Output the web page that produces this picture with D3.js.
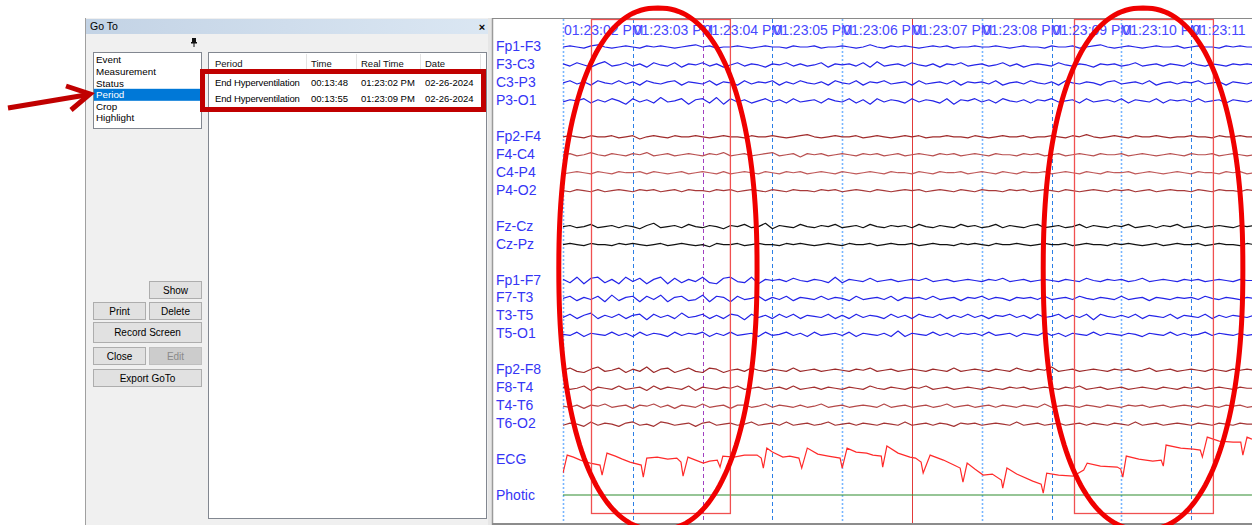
<!DOCTYPE html>
<html><head><meta charset="utf-8">
<script src="https://cdn.jsdelivr.net/npm/d3@7"></script>
<style>
html,body{margin:0;padding:0;background:#fff;overflow:hidden}
svg{display:block}
text{font-family:"Liberation Sans",Arial,sans-serif}
</style></head>
<body>
<svg id="chart" width="1252" height="525"></svg>
<script>
// ---------------- DATA ----------------
const listItems = ["Event","Measurement","Status","Period","Crop","Highlight"];
const selectedItem = "Period";
const tableColumns = ["Period","Time","Real Time","Date"];
const periodNames = ["End Hyperventilation","End Hyperventilation"];
const periodTimes = ["00:13:48","00:13:55"];
const periodRealTimes = ["01:23:02 PM","01:23:09 PM"];
const periodDates = ["02-26-2024","02-26-2024"];

const tickSeconds = [2,3,4,5,6,7,8,9,10,11];
const tickLabels = ["01:23:02 PM","01:23:03 PM","01:23:04 PM","01:23:05 PM","01:23:06 PM","01:23:07 PM","01:23:08 PM","01:23:09 PM","01:23:10 PM","01:23:11"];
const tickStyles = ["light","dark","purple","dark","light","red","light","dark","light","dark"];

const channelGroups = [
  ["Fp1-F3","F3-C3","C3-P3","P3-O1"],
  ["Fp2-F4","F4-C4","C4-P4","P4-O2"],
  ["Fz-Cz","Cz-Pz"],
  ["Fp1-F7","F7-T3","T3-T5","T5-O1"],
  ["Fp2-F8","F8-T4","T4-T6","T6-O2"],
  ["ECG"],
  ["Photic"]
];
const channelColors = {
  "Fp1-F3":"#2424e8","F3-C3":"#2424e8","C3-P3":"#2424e8","P3-O1":"#2424e8",
  "Fp2-F4":"#a02c2c","F4-C4":"#b85050","C4-P4":"#c05a5a","P4-O2":"#a83a3a",
  "Fz-Cz":"#111111","Cz-Pz":"#111111",
  "Fp1-F7":"#2424e8","F7-T3":"#2424e8","T3-T5":"#2424e8","T5-O1":"#2424e8",
  "Fp2-F8":"#9c2a2a","F8-T4":"#a43030","T4-T6":"#b44848","T6-O2":"#a43434",
  "ECG":"#ff2a2a","Photic":"#2e8b2e"
};

const SAMPLE_START = 2.0, SAMPLE_STEP = 0.1;
const eeg = {
"Fp1-F3":[0,1,0,-1,1,2,0,-1,0,1, 0,-1,1,0,1,0,-1,0,1,2, 0,1,-1,0,0,1,0,-1,0,1, 0,0,-1,1,0,0,1,-1,0,0, 1,0,-1,0,2,0,-1,1,0,1, 0,-1,0,1,0,1,-1,0,0,1, 0,0,1,0,-1,0,1,0,0,-1, 1,0,0,1,-1,0,1,2,0,-1, 0,1,0,-1,0,1,0,0,1,-1, 0,1,0,0,-1,1,0,1,0,0],
"F3-C3":[1,-1,2,0,-2,1,3,-1,0,2, -1,1,-2,2,0,-1,2,-2,1,0, 2,-1,1,-2,0,2,-1,1,0,-2, 1,0,2,-1,1,-1,0,2,-2,1, 0,1,-1,2,-2,3,-1,0,1,-1, 2,0,-1,1,-2,1,0,2,-1,0, 1,-1,0,2,-1,1,-2,0,1,0, -1,2,0,-1,1,0,-2,1,0,1, -1,0,2,-1,0,1,-1,1,0,-1, 2,0,-1,1,0,-1,1,0,1,0],
"C3-P3":[0,2,-1,1,-2,2,0,-1,2,-1, 1,-2,2,0,-1,1,2,-2,1,0, -1,2,-2,1,0,-2,2,-1,1,0, 2,-2,1,-1,2,0,-1,1,-2,2, 0,-1,2,-2,1,0,2,-1,0,1, -2,2,-1,0,1,-1,2,-2,1,0, 1,-1,2,-2,0,1,-1,2,0,-1, 1,-2,2,0,-1,1,0,-2,1,2, -1,0,1,-1,2,-2,0,1,-1,1, 0,2,-1,0,1,-2,1,0,-1,1],
"P3-O1":[-1,1,0,2,-2,1,-1,2,0,-3, 2,-1,1,-2,3,-1,0,2,-3,1, 2,-2,3,-3,2,-1,1,-2,0,2, -1,1,-2,2,-1,0,1,-2,2,0, -1,2,-2,1,-3,2,-1,1,0,-2, 2,-1,1,0,-2,2,-3,1,0,2, -1,1,-2,2,0,-1,1,-2,1,0, 2,-1,0,1,-2,2,-1,0,1,-1, 2,-2,1,0,-1,2,-2,1,0,1, -1,2,-1,0,1,-2,1,0,-1,1],
"Fp2-F4":[0,1,0,-1,1,0,0,1,-1,0, 1,-2,0,1,0,-1,1,0,0,1, 0,-1,0,1,0,0,-1,1,0,0, 1,0,-1,0,1,2,0,-1,0,1, 0,0,1,-1,0,1,0,-1,0,1, 0,1,-1,0,0,1,0,0,-1,1, 0,-1,0,1,0,0,1,-1,0,0, 1,0,-1,1,0,2,0,-1,0,1, 0,-1,1,0,0,1,0,-1,0,0, 1,0,0,-1,1,0,0,1,0,0],
"F4-C4":[0,1,-1,0,2,0,-1,1,0,-1, 1,0,2,-1,0,1,-1,0,1,0, -1,1,0,2,-1,0,1,-1,0,1, 2,-1,0,1,-2,1,0,1,-1,0, 1,0,-1,1,0,1,-1,0,1,-1, 0,1,0,-1,1,0,1,-1,0,1, 0,-1,1,0,0,-1,1,0,1,-1, 0,1,-1,0,1,0,-1,1,0,0, 1,-1,0,1,0,-1,0,1,0,-1, 1,0,0,1,-1,0,1,0,-1,0],
"C4-P4":[-1,0,1,0,-1,1,0,-1,1,0, 0,1,-1,1,0,-1,0,1,-1,0, 1,0,-1,1,-1,0,1,0,-1,1, 0,-1,1,0,1,-1,0,1,0,-1, 1,0,-1,0,1,0,-1,1,0,0, -1,1,0,-1,1,0,0,1,-1,0, 1,0,-1,1,0,-1,1,0,0,1, -1,0,1,0,-1,1,0,-1,1,0, 0,1,-1,0,1,0,-1,0,1,0, -1,1,0,0,-1,1,0,1,-1,0],
"P4-O2":[0,-1,1,0,-1,1,-1,0,1,0, -1,1,0,1,-1,0,1,-1,1,0, 0,-1,1,0,1,-1,0,1,0,-1, 1,0,-1,1,0,0,-1,1,0,1, -1,0,1,0,-1,1,0,-1,0,1, 0,1,-1,0,1,0,-1,1,0,-1, 1,0,0,-1,1,0,1,-1,0,1, 0,-1,1,0,-1,0,1,0,-1,1, 0,1,-1,0,1,-1,0,1,0,0, -1,1,0,-1,1,0,0,-1,1,0],
"Fz-Cz":[0,1,-1,0,2,-1,0,1,-1,1, 0,-2,1,3,-1,0,1,-1,2,0, -1,1,0,-2,1,0,2,-1,0,3, -2,1,0,-1,2,0,-1,1,0,2, -1,0,1,-1,2,0,-1,1,0,1, -1,2,0,-1,1,0,-1,2,0,1, -1,0,2,-1,1,0,-1,1,2,-1, 0,1,-1,0,2,-1,1,0,-1,1, 0,2,-1,0,1,-1,1,0,2,-1, 0,1,-1,0,1,0,-1,1,0,1],
"Cz-Pz":[0,1,0,-1,1,0,0,-1,1,0, 1,0,-1,0,1,-1,0,1,0,-1, 0,-2,1,0,0,1,-1,0,1,0, 0,-1,1,0,1,0,-1,0,1,0, -1,1,0,0,1,-1,0,1,0,0, 1,-1,0,1,0,0,-1,1,0,1, 0,-1,1,0,0,1,0,-1,0,1, 0,0,1,-1,0,1,0,0,-1,1, 0,1,0,-1,0,1,-1,0,1,0, 0,1,-1,0,1,0,0,-1,1,0],
"Fp1-F7":[1,-2,3,-3,2,3,-2,1,-3,3, -1,2,-3,1,3,-3,2,-2,1,-1, 3,-2,-3,2,3,-1,-2,3,-3,1, 0,1,-1,2,0,-1,1,0,-2,3, -2,1,0,-1,2,-1,0,1,-1,0, 1,0,2,-1,0,1,-1,0,1,0, -1,1,0,2,-1,0,1,-1,0,1, 0,-1,1,0,-1,2,0,-1,1,0, 1,-1,0,2,-1,0,1,0,-1,1, 0,1,-1,0,1,0,-1,1,0,0],
"F7-T3":[0,2,-2,1,-1,2,-3,3,-2,1, 2,-3,2,-1,3,-3,1,2,-2,-1, 3,-3,2,1,-3,2,-1,0,2,-2, 1,-1,2,-2,1,0,-1,2,-1,1, 0,-2,2,-1,0,1,-1,2,-2,1, 0,1,-1,2,-1,0,1,-2,1,0, 2,-1,1,0,-2,1,0,1,-1,2, -1,0,1,-1,2,0,-1,1,0,-1, 2,-1,0,1,-2,1,0,-1,1,0, 1,-1,2,0,-1,1,0,-1,1,0],
"T3-T5":[-1,2,-2,1,3,-2,1,-1,2,-2, 1,2,-3,2,-1,1,-2,3,-1,0, 2,-2,1,-2,2,1,-3,2,-1,1, -2,2,-1,2,-2,1,0,-1,2,-2, 1,-2,2,-1,1,0,-2,2,-1,1, -2,2,0,-1,2,-2,1,-1,2,-1, 1,-2,1,0,2,-1,1,-2,2,-1, 0,2,-2,1,-1,2,-3,2,0,-1, 1,-1,2,-2,1,0,-1,2,-2,1, 0,-1,2,-2,1,-1,1,0,-1,1],
"T5-O1":[0,-1,2,-2,1,0,-1,2,-1,1, -2,2,-1,1,0,-2,2,-1,1,0, 2,-2,1,-1,2,-1,0,1,-2,2, -1,0,2,-1,1,-2,2,-1,0,1, -1,2,-2,1,0,-1,1,-2,3,-2, 1,0,-1,2,-1,1,-2,1,0,1, -1,2,-1,0,1,-2,1,0,-1,2, -1,1,-2,1,0,-1,2,-1,1,0, -1,1,0,-2,1,0,-1,2,-1,1, -1,0,2,-1,1,0,-1,1,-1,0],
"Fp2-F8":[0,2,-1,-2,1,3,-1,0,2,-2, 1,-1,3,-2,1,2,-2,0,2,-1, -2,2,1,-2,0,1,-1,2,0,-1, 1,0,-1,2,-1,0,1,-1,0,1, 0,-1,1,0,2,-1,0,1,-1,0, 1,0,-1,1,0,-1,2,-1,0,1, 0,-1,1,0,-1,2,0,-1,1,0, 3,-1,0,1,-1,0,1,0,-1,1, 0,1,-1,0,2,-1,0,1,-1,0, 1,0,-1,1,0,-1,1,0,1,0],
"F8-T4":[1,-1,0,2,-2,1,0,-1,2,-1, 0,1,-2,2,-1,1,0,-1,2,-2, 1,0,-1,1,0,2,-1,0,1,-1, 0,1,-1,2,-1,0,1,-1,1,0, -1,1,0,-1,2,0,-1,1,0,-1, 1,0,2,-1,0,1,-1,0,1,0, -1,1,0,-1,1,0,1,-1,0,1, 0,-1,1,0,2,-1,0,1,-1,0, 1,-1,0,1,0,-1,1,0,-1,1, 0,1,-1,0,1,0,-1,1,0,0],
"T4-T6":[0,-1,1,-2,1,0,2,-1,0,1, -2,1,0,2,-1,1,-2,1,0,-1, 2,-1,0,1,-2,1,1,-1,0,2, -1,1,0,-1,1,-1,0,2,-1,0, 1,-1,0,1,0,-1,2,-1,0,1, -1,0,1,-1,0,2,-1,0,1,-1, 0,1,-1,1,0,-1,1,0,-1,2, -1,0,1,0,-1,1,0,-1,1,0, -1,1,0,1,-1,0,1,-1,0,1, 0,-1,1,0,-1,1,0,1,-1,0],
"T6-O2":[-1,1,0,-2,2,-1,1,0,-2,1, 2,-1,0,-2,2,1,-1,0,1,-2, 1,2,-1,0,1,-1,0,2,-1,0, 1,-1,2,-1,0,1,-1,0,2,-1, 0,1,-1,1,0,-1,1,0,-1,2, -1,0,1,-1,1,0,-2,1,0,1, -1,0,1,0,-1,2,-1,0,1,-1, 0,1,-1,0,1,-1,1,0,-1,1, 0,-1,2,-1,0,1,-1,0,1,0, -1,1,0,-1,1,0,-1,1,0,0]
};

const ecgTimes = [2.00,2.06,2.15,2.25,2.39,2.53,2.56,2.63,2.75,2.85,2.96,3.12,3.15,3.20,3.35,3.50,3.63,3.69,3.72,3.79,3.90,4.01,4.10,4.21,4.25,4.29,4.45,4.60,4.78,4.84,4.87,4.92,5.00,5.15,5.25,5.38,5.42,5.50,5.65,5.80,5.97,6.00,6.07,6.20,6.35,6.44,6.56,6.58,6.64,6.80,6.97,7.05,7.13,7.16,7.26,7.45,7.60,7.69,7.73,7.79,7.90,8.02,8.15,8.28,8.30,8.36,8.50,8.73,8.85,8.88,8.93,9.10,9.31,9.46,9.51,9.70,9.94,9.99,10.02,10.07,10.25,10.45,10.57,10.60,10.64,10.85,11.03,11.13,11.16,11.23,11.40,11.60,11.71,11.74,11.80,11.87];
const ecgValues = [-14,4,2,-1,-4,-6,-16,6,3,0,-3,-6,-18,1,2,0,1,-3,-17,2,-1,-4,-2,-1,-8,3,2,4,4,1,-9,11,7,2,3,1,-9,11,5,3,1,-9,11,7,6,4,3,-8,13,6,2,1,-3,-14,4,-1,-6,-9,-23,-4,-10,-16,-15,-21,-29,-9,-15,-22,-25,-34,-14,-16,-17,-11,-4,-7,-8,-10,-18,3,0,-2,-1,-7,14,11,10,9,2,22,18,17,17,4,22,20];
const photicTimes = [2.0, 11.87];
const photicValues = [0, 0];

const periodBoxes = [{start:2.40,end:4.39},{start:9.32,end:11.31}];
const highlightEllipses = [{center:3.36,half:1.42},{center:10.31,half:1.43}];

// ---------------- DRAW ----------------
const svg = d3.select("#chart");

// ===== Left "Go To" panel =====
const defs = svg.append("defs");
const grad = defs.append("linearGradient").attr("id","tb").attr("x1","0").attr("x2","1");
grad.append("stop").attr("offset","0").attr("stop-color","#c3d3e5");
grad.append("stop").attr("offset","1").attr("stop-color","#dbe7f3");

svg.append("rect").attr("x",85).attr("y",18).attr("width",407).attr("height",507).attr("fill","#f0f0f0");
svg.append("line").attr("x1",85.5).attr("x2",85.5).attr("y1",18).attr("y2",525).attr("stroke","#a0a0a0");
svg.append("rect").attr("x",86).attr("y",19).attr("width",404).attr("height",15).attr("fill","url(#tb)");
svg.append("text").attr("x",90).attr("y",30).attr("font-size",10.5).attr("fill","#000").text("Go To");
svg.append("text").attr("x",482).attr("y",30.5).attr("font-size",11).attr("font-weight","bold").attr("text-anchor","middle").text("×");
// pin icon
const pin = svg.append("g").attr("transform","translate(194,42)");
pin.append("rect").attr("x",-2).attr("y",-4).attr("width",4).attr("height",4).attr("fill","#111");
pin.append("rect").attr("x",-3).attr("y",0).attr("width",6).attr("height",1.5).attr("fill","#111");
pin.append("line").attr("x1",0).attr("x2",0).attr("y1",1).attr("y2",5).attr("stroke","#111");

// list box
svg.append("rect").attr("x",93.5).attr("y",52.5).attr("width",108).attr("height",76).attr("fill","#fff").attr("stroke","#828790");
const listY = d3.scalePoint().domain(listItems).range([60,118]);
listItems.forEach(it=>{
  if(it===selectedItem){
    svg.append("rect").attr("x",94).attr("y",listY(it)-6).attr("width",107).attr("height",12).attr("fill","#0078d7");
  }
  svg.append("text").attr("x",96).attr("y",listY(it)).attr("dy","0.35em").attr("font-size",9.8)
    .attr("fill",it===selectedItem?"#fff":"#000").text(it);
});

// table
svg.append("rect").attr("x",208.5).attr("y",52.5).attr("width",278).attr("height",466).attr("fill","#fff").attr("stroke","#828790");
const colX = [215,311,361,425];
[306,356,420,480].forEach(sx=>svg.append("line").attr("x1",sx+0.5).attr("x2",sx+0.5).attr("y1",54).attr("y2",72).attr("stroke","#e3e3e3"));
tableColumns.forEach((c,i)=>svg.append("text").attr("x",colX[i]).attr("y",64).attr("dy","0.35em").attr("font-size",9.5).attr("fill","#111").text(c));
const rowY = d3.scalePoint().domain(d3.range(periodNames.length)).range([83,99]);
periodNames.forEach((n,i)=>{
  [n,periodTimes[i],periodRealTimes[i],periodDates[i]].forEach((v,j)=>{
    svg.append("text").attr("x",colX[j]).attr("y",rowY(i)).attr("dy","0.35em").attr("font-size",9.5)
      .attr("letter-spacing", j===0 ? "-0.15" : "0").attr("fill","#000").text(v);
  });
});
// red highlight box around rows
svg.append("rect").attr("x",202.5).attr("y",71.5).attr("width",281).attr("height",38).attr("fill","none").attr("stroke","#c00000").attr("stroke-width",5);

// buttons
const buttons = [
  {label:"Show",x:149,y:281,w:52,h:17},
  {label:"Print",x:93,y:302,w:52,h:17},
  {label:"Delete",x:149,y:302,w:52,h:17},
  {label:"Record Screen",x:93,y:322,w:108,h:20},
  {label:"Close",x:93,y:347,w:52,h:17},
  {label:"Edit",x:149,y:347,w:52,h:17,disabled:true},
  {label:"Export GoTo",x:93,y:369,w:108,h:17}
];
buttons.forEach(b=>{
  svg.append("rect").attr("x",b.x+0.5).attr("y",b.y+0.5).attr("width",b.w).attr("height",b.h)
    .attr("fill",b.disabled?"#cccccc":"#e1e1e1").attr("stroke",b.disabled?"#bfbfbf":"#adadad");
  svg.append("text").attr("x",b.x+b.w/2+0.5).attr("y",b.y+b.h/2+0.5).attr("dy","0.35em").attr("text-anchor","middle")
    .attr("font-size",10).attr("fill",b.disabled?"#8a8a8a":"#000").text(b.label);
});

// arrow
svg.append("line").attr("x1",8).attr("y1",108).attr("x2",86).attr("y2",95).attr("stroke","#c00000").attr("stroke-width",5);
svg.append("polyline").attr("points","66,86 90,94 71,110").attr("fill","none").attr("stroke","#c00000").attr("stroke-width",5).attr("stroke-linejoin","miter");

// ===== EEG panel =====
svg.append("rect").attr("x",488).attr("y",18).attr("width",4).attr("height",507).attr("fill","#e6e6e6");
svg.append("line").attr("x1",492.5).attr("x2",492.5).attr("y1",18).attr("y2",525).attr("stroke","#9a9a9a").attr("stroke-width",1.5);
svg.append("line").attr("x1",492).attr("x2",1252).attr("y1",18.5).attr("y2",18.5).attr("stroke","#8a8a8a");
svg.append("rect").attr("x",492).attr("y",523).attr("width",760).attr("height",2).attr("fill","#8c8c8c");

const x = d3.scaleLinear().domain([2, 11.871]).range([563, 1252]);
const slots = [];
channelGroups.forEach((g,i)=>{ g.forEach(c=>slots.push(c)); if(i<channelGroups.length-1) slots.push("gap"+i); });
const y = d3.scalePoint().domain(slots).range([46,495]);
const amp = d3.scaleLinear().domain([-10,10]).range([11,-11]);
const ecgAmp = d3.scaleLinear().domain([-10,10]).range([10,-10]);

defs.append("clipPath").attr("id","plot").append("rect").attr("x",563).attr("y",19).attr("width",689).attr("height",504);

// vertical second markers
const styleMap = {
  light:{stroke:"#78b6ff",w:1.6,dash:"2,2"},
  dark:{stroke:"#2c7fe6",w:1,dash:"4,3"},
  purple:{stroke:"#a040c0",w:1,dash:"4,3"},
  red:{stroke:"#e23a3a",w:1,dash:null}
};
tickSeconds.forEach((s,i)=>{
  const st = styleMap[tickStyles[i]];
  svg.append("line").attr("x1",Math.round(x(s))+0.5).attr("x2",Math.round(x(s))+0.5).attr("y1",19).attr("y2",523)
    .attr("stroke",st.stroke).attr("stroke-width",st.w).attr("stroke-dasharray",st.dash);
});

// traces
const traces = svg.append("g").attr("clip-path","url(#plot)");
Object.keys(eeg).forEach(ch=>{
  const vals = eeg[ch];
  const line = d3.line().x((d,i)=>x(SAMPLE_START+i*SAMPLE_STEP)).y(d=>y(ch)+1+amp(d)).curve(d3.curveLinear);
  traces.append("path").datum(vals).attr("d",line).attr("fill","none")
    .attr("stroke",channelColors[ch]).attr("stroke-width",1.2).attr("stroke-linejoin","round");
});
const ecgLine = d3.line().x(d=>x(d[0])).y(d=>y("ECG")+ecgAmp(d[1]));
traces.append("path").datum(ecgTimes.map((t,i)=>[t,ecgValues[i]])).attr("d",ecgLine)
  .attr("fill","none").attr("stroke",channelColors["ECG"]).attr("stroke-width",1.2);
traces.append("path").datum(photicTimes.map((t,i)=>[t,photicValues[i]])).attr("d",d3.line().x(d=>x(d[0])).y(d=>y("Photic")+amp(d[1])))
  .attr("fill","none").attr("stroke",channelColors["Photic"]).attr("stroke-width",1.2);

// channel labels
channelGroups.flat().forEach(ch=>{
  svg.append("text").attr("x",496).attr("y",y(ch)).attr("dy","0.36em").attr("font-size",14).attr("fill","#3535f5").text(ch);
});

// period boxes
periodBoxes.forEach(b=>{
  svg.append("rect").attr("x",Math.round(x(b.start))+0.5).attr("y",19.5).attr("width",x(b.end)-x(b.start)).attr("height",494)
    .attr("fill","none").attr("stroke","#f05050").attr("stroke-width",1.3);
});

// time labels
tickSeconds.forEach((s,i)=>{
  svg.append("text").attr("x",x(s)+1).attr("y",30).attr("dy","0.36em").attr("font-size",14).attr("fill","#4848ff").text(tickLabels[i]);
});

// highlight ovals (superellipse shape), centred on the highlighted time spans
const ovalTop = 8, ovalBottom = 530, ovalPower = 2.25;
const ovalLine = d3.line().curve(d3.curveLinearClosed);
highlightEllipses.forEach(e=>{
  const cx = x(e.center), rx = x(e.center+e.half)-x(e.center);
  const cy = (ovalTop+ovalBottom)/2, ry = (ovalBottom-ovalTop)/2;
  const pts = d3.range(0, 360, 2).map(a=>{
    const r = a*Math.PI/180, c = Math.cos(r), s = Math.sin(r);
    return [cx + rx*Math.sign(c)*Math.pow(Math.abs(c),2/ovalPower), cy + ry*Math.sign(s)*Math.pow(Math.abs(s),2/ovalPower)];
  });
  svg.append("path").attr("d",ovalLine(pts)).attr("fill","none").attr("stroke","#f00000").attr("stroke-width",5);
});
</script>
</body></html>
